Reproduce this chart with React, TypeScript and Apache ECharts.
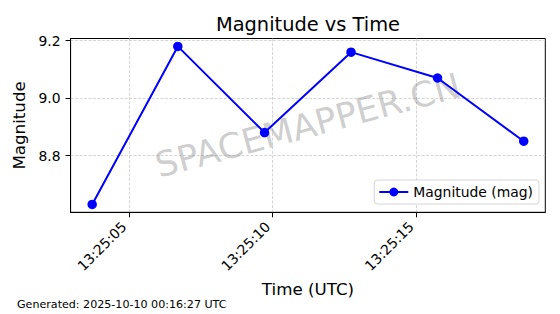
import React, { useEffect, useRef } from "react";
import * as echarts from "echarts";

// seconds after 13:25:00 UTC
const timeSeconds = [3.72, 6.7, 9.72, 12.73, 15.74, 18.74];
const magnitudes = [8.63, 9.18, 8.88, 9.16, 9.07, 8.85];
const xTickSeconds = [5, 10, 15];
const yTicks = [8.8, 9.0, 9.2];
const titleText = "Magnitude vs Time";
const seriesName = "Magnitude (mag)";
const xName = "Time (UTC)";
const yName = "Magnitude";
const footerText = "Generated: 2025-10-10 00:16:27 UTC";
const watermarkText = "SPACEMAPPER.CN";

const FONT = "DejaVu Sans";

export default function App() {
  const ref = useRef<HTMLDivElement>(null);
  useEffect(() => {
    document.body.style.margin = "0";
    if (!ref.current) return;
    const chart = echarts.init(ref.current, null, { renderer: "svg" });
    const xMin = Math.min(...timeSeconds);
    const xMax = Math.max(...timeSeconds);
    const xPad = (xMax - xMin) * 0.05;
    const yMin = Math.min(...magnitudes);
    const yMax = Math.max(...magnitudes);
    const yPad = (yMax - yMin) * 0.05;
    const fmtTime = (v: number) => "13:25:" + String(Math.round(v)).padStart(2, "0");
    chart.setOption({
      animation: false,
      textStyle: { fontFamily: FONT },
      grid: {
        left: 70.6,
        right: 14.7,
        top: 38.5,
        bottom: 101.7,
        show: true,
        borderColor: "#000",
        borderWidth: 1,
        backgroundColor: "transparent",
        containLabel: false,
        outerBoundsMode: "none",
      },
      xAxis: {
        type: "value",
        min: xMin - xPad,
        max: xMax + xPad,
        name: xName,
        nameLocation: "middle",
        nameGap: 68,
        nameTextStyle: { fontSize: 16.7, color: "#000", fontFamily: FONT },
        axisLine: { show: true, lineStyle: { color: "#000", width: 1 } },
        axisTick: {
          show: true,
          inside: false,
          length: 5,
          customValues: xTickSeconds,
          lineStyle: { color: "#000", width: 1 },
        },
        axisLabel: {
          customValues: xTickSeconds,
          rotate: 45,
          margin: 7,
          padding: [0, 7, 0, 0],
          fontSize: 13.9,
          color: "#000",
          fontFamily: FONT,
          formatter: (v: number) => fmtTime(v),
        },
        splitLine: {
          show: true,
          lineStyle: { color: "#cccccc", type: [3, 1.5], width: 0.8 },
        },
      },
      yAxis: {
        type: "value",
        min: yMin - yPad,
        max: yMax + yPad,
        name: yName,
        nameLocation: "middle",
        nameGap: 38,
        nameTextStyle: { fontSize: 16.7, color: "#000", fontFamily: FONT },
        axisLine: { show: true, lineStyle: { color: "#000", width: 1 } },
        axisTick: {
          show: true,
          inside: false,
          length: 5,
          customValues: yTicks,
          lineStyle: { color: "#000", width: 1 },
        },
        axisLabel: {
          customValues: yTicks,
          margin: 10,
          fontSize: 13.9,
          color: "#000",
          fontFamily: FONT,
          formatter: (v: number) => v.toFixed(1),
        },
        splitLine: {
          show: true,
          lineStyle: { color: "#cccccc", type: [3, 1.5], width: 0.8 },
        },
      },
      legend: {
        right: 21,
        top: 180,
        orient: "horizontal",
        padding: [5, 6, 5, 4],
        itemWidth: 29,
        itemHeight: 11,
        itemGap: 8,
        backgroundColor: "#fff",
        borderColor: "#d6d6d6",
        borderWidth: 1,
        borderRadius: 3,
        textStyle: { fontSize: 13.9, color: "#000", fontFamily: FONT },
        data: [{ name: seriesName }],
      },
      series: [
        {
          type: "line",
          name: seriesName,
          data: timeSeconds.map((t, i) => [t, magnitudes[i]]),
          symbol: "circle",
          symbolSize: 9.5,
          showAllSymbol: true,
          lineStyle: { color: "#0000ff", width: 2 },
          itemStyle: { color: "#0000ff" },
          z: 3,
        },
      ],
      graphic: [
        {
          type: "text",
          x: 308,
          y: 24.5,
          style: {
            text: titleText,
            fontSize: 19.4,
            fontFamily: FONT,
            fill: "#000",
            align: "center",
            verticalAlign: "middle",
          },
        },
        {
          type: "text",
          x: 308,
          y: 125.5,
          rotation: (15 * Math.PI) / 180,
          z: 1,
          style: {
            text: watermarkText,
            fontSize: 35,
            fontFamily: FONT,
            fill: "rgba(128,128,128,0.4)",
            align: "center",
            verticalAlign: "middle",
          },
        },
        {
          type: "text",
          x: 17,
          y: 304.5,
          style: {
            text: footerText,
            fontSize: 11.1,
            fontFamily: FONT,
            fill: "#000",
            align: "left",
            verticalAlign: "middle",
          },
        },
      ],
    });
    return () => chart.dispose();
  }, []);
  return <div ref={ref} style={{ width: 560, height: 314 }} />;
}
